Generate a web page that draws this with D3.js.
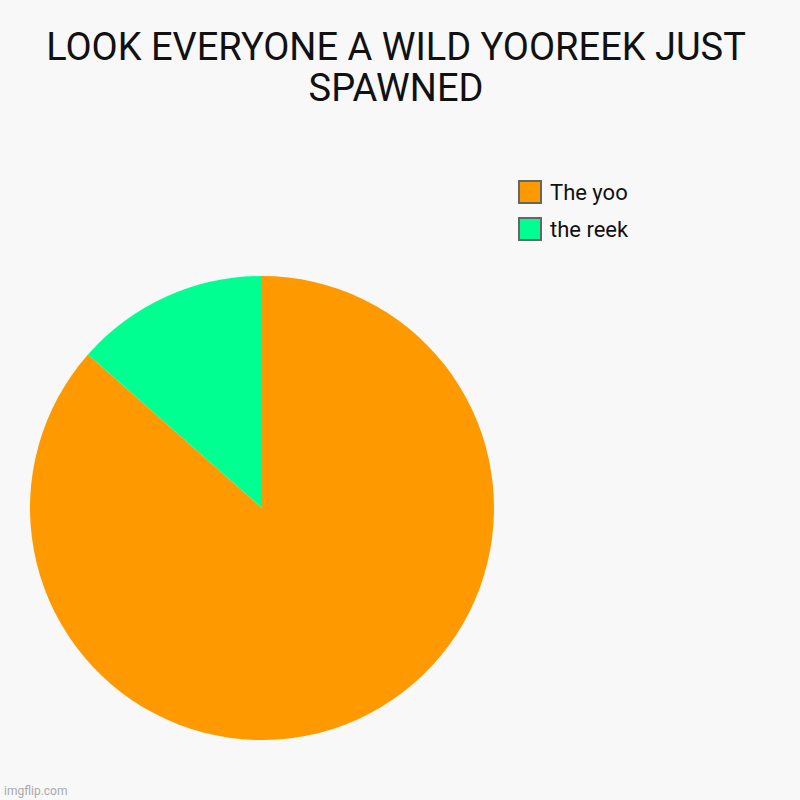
<!DOCTYPE html>
<html><head><meta charset="utf-8">
<script src="https://cdn.jsdelivr.net/npm/d3@7"></script>
<style>body{margin:0;background:#f8f8f8;}svg{display:block;}</style>
</head><body>
<script>
const categories = ["The yoo", "the reek"];
const values = [86.5, 13.5];
const colors = ["#ff9900", "#00ff91"];
const titleLines = ["LOOK EVERYONE A WILD YOOREEK JUST", "SPAWNED"];

const W = 800, H = 800;
const svg = d3.select("body").append("svg").attr("width", W).attr("height", H);
svg.append("rect").attr("width", W).attr("height", H).attr("fill", "#f8f8f8");

svg.append("g").selectAll("text").data(titleLines).join("text")
  .attr("x", 396).attr("y", (d, i) => 60 + i * 41)
  .attr("text-anchor", "middle")
  .attr("font-family", "Roboto").attr("font-size", 38).attr("fill", "#111")
  .text(d => d);

const data = categories.map((c, i) => ({ c, v: values[i], col: colors[i] }));
const pie = d3.pie().value(d => d.v).sort(null);
const arc = d3.arc().innerRadius(0).outerRadius(232);
svg.append("g").attr("transform", "translate(262,508)")
  .selectAll("path").data(pie(data)).join("path")
  .attr("d", arc).attr("fill", d => d.data.col);

const lg = svg.append("g").attr("transform", "translate(519,181)");
const item = lg.selectAll("g").data(data).join("g")
  .attr("transform", (d, i) => `translate(0,${i * 37})`);
item.append("rect").attr("width", 22).attr("height", 22)
  .attr("fill", d => d.col).attr("stroke", "#666").attr("stroke-width", 2);
item.append("text").attr("x", 31).attr("y", 19)
  .attr("font-family", "Roboto").attr("font-size", 22).attr("fill", "#111")
  .text(d => d.c);

svg.append("text").attr("x", 4).attr("y", 795)
  .attr("font-family", "Roboto").attr("font-size", 12).attr("fill", "#aaa")
  .text("imgflip.com");
</script>
</body></html>
